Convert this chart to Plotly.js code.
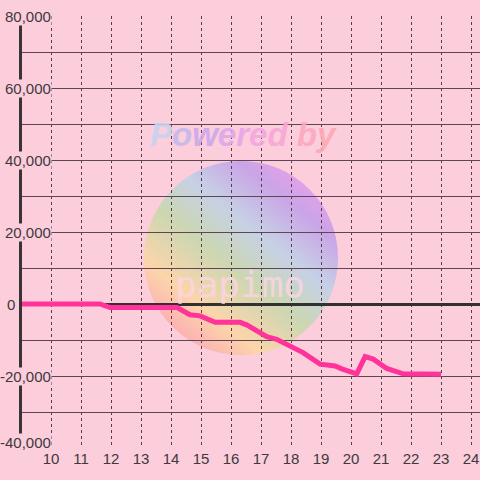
<!DOCTYPE html>
<html><head><meta charset="utf-8">
<script src="https://cdn.plot.ly/plotly-3.0.1.min.js"></script>
<style>html,body{margin:0;padding:0;background:#fccddb}</style>
</head><body>
<div id="chart" style="width:480px;height:480px"></div>
<script>
// Data (hour of day vs. cumulative balance)
const hours = [9.0, 11.63, 11.97, 14.2, 14.63, 14.97, 15.47, 16.3, 16.52, 17.19, 17.52, 17.97, 18.4, 18.97, 19.47, 19.69, 20.19, 20.47, 20.74, 21.19, 21.74, 23.0];
const balance = [0, 0, -1000, -1000, -3000, -3300, -5100, -5100, -5800, -9100, -9800, -11700, -13500, -16700, -17200, -18000, -19400, -14600, -15300, -17900, -19400, -19500];
const xTickVals = [10, 11, 12, 13, 14, 15, 16, 17, 18, 19, 20, 21, 22, 23, 24];
const yLabelVals = [80000, 60000, 40000, 20000, 0, -20000, -40000];
const watermarkTitle = 'Powered by';
const watermarkBrand = 'papimo';

const BG = '#fccddb';
const TXT = '#3c3a3c';

const svg = '<svg xmlns="http://www.w3.org/2000/svg" width="200" height="200" viewBox="0 0 200 200">' +
  '<defs><linearGradient id="g" x1="0.1" y1="1" x2="0.9" y2="0">' +
  '<stop offset="0.05" stop-color="#fca0b4"/>' +
  '<stop offset="0.25" stop-color="#fcd6a8"/>' +
  '<stop offset="0.45" stop-color="#c9d8b0"/>' +
  '<stop offset="0.62" stop-color="#c4d2e6"/>' +
  '<stop offset="0.8" stop-color="#c8a2e8"/>' +
  '<stop offset="1" stop-color="#fc9cec"/>' +
  '</linearGradient></defs>' +
  '<circle cx="100" cy="100" r="99" fill="url(#g)"/></svg>';
const svgURI = 'data:image/svg+xml;base64,' + btoa(svg);

const letterColors = ['#c4d4ee', '#c4b8ee', '#cca8ec', '#dca8ea', '#eaa6e6', '#f4a6e0', '#f8a6d6', '#fca8cc', '#fca8c0', '#fca8b4'];
const titleHTML = watermarkTitle.split('').map((ch, i) =>
  '<span style="color:' + letterColors[i % letterColors.length] + '">' + ch + '</span>').join('');

const annotations = yLabelVals.map(v => ({
  xref: 'paper', yref: 'y', x: 0, y: v,
  xanchor: 'right', yanchor: 'middle',
  xshift: v === 0 ? -6 : 30,
  yshift: v === -40000 ? 6 : 0,
  text: v.toLocaleString('en-US'),
  showarrow: false,
  bgcolor: v === 0 ? 'rgba(0,0,0,0)' : BG,
  borderpad: 0,
  font: {family: 'Liberation Sans, Arial, sans-serif', size: 15, color: TXT}
}));
annotations.push({
  xref: 'paper', yref: 'paper', x: (243 - 22) / 458, y: (448 - 135) / 432,
  xanchor: 'center', yanchor: 'middle', showarrow: false,
  text: '<b><i>' + titleHTML + '</i></b>', opacity: 0.9,
  font: {family: 'Liberation Sans, Arial, sans-serif', size: 33, color: '#e0a8e0'}
});
annotations.push({
  xref: 'paper', yref: 'paper', x: (240 - 22) / 458, y: (448 - 284) / 432,
  xanchor: 'center', yanchor: 'middle', showarrow: false,
  text: watermarkBrand,
  font: {family: 'DejaVu Sans Mono, monospace', size: 36, color: 'rgba(255,212,230,0.8)'}
});

const trace = {
  x: hours, y: balance, type: 'scatter', mode: 'lines',
  line: {color: '#ff3399', width: 5},
  hoverinfo: 'skip'
};

const layout = {
  width: 480, height: 480,
  paper_bgcolor: BG, plot_bgcolor: BG,
  margin: {l: 22, r: 0, t: 16, b: 32, pad: 0},
  showlegend: false,
  font: {family: 'Liberation Sans, Arial, sans-serif', color: TXT},
  xaxis: {
    range: [9.03, 24.3], tickvals: xTickVals, ticktext: xTickVals.map(String),
    showgrid: true, gridcolor: '#5b3c4b', griddash: 'dot', gridwidth: 1,
    zeroline: false, showline: false, ticks: '',
    tickfont: {size: 15, color: TXT}, fixedrange: true
  },
  yaxis: {
    range: [-40000, 80000], tick0: 0, dtick: 10000,
    showticklabels: false, ticks: '',
    showgrid: true, gridcolor: '#5e4656', gridwidth: 1,
    zeroline: true, zerolinecolor: '#333033', zerolinewidth: 3,
    showline: true, linecolor: '#3a3336', linewidth: 3, fixedrange: true
  },
  images: [{
    source: svgURI, xref: 'paper', yref: 'paper',
    x: (143 - 22) / 458, y: (448 - 160) / 432,
    sizex: 196 / 458, sizey: 196 / 432,
    xanchor: 'left', yanchor: 'top', sizing: 'stretch',
    layer: 'below', opacity: 0.95
  }],
  annotations: annotations
};

Plotly.newPlot('chart', [trace], layout, {displayModeBar: false, staticPlot: true});
</script>
</body></html>
